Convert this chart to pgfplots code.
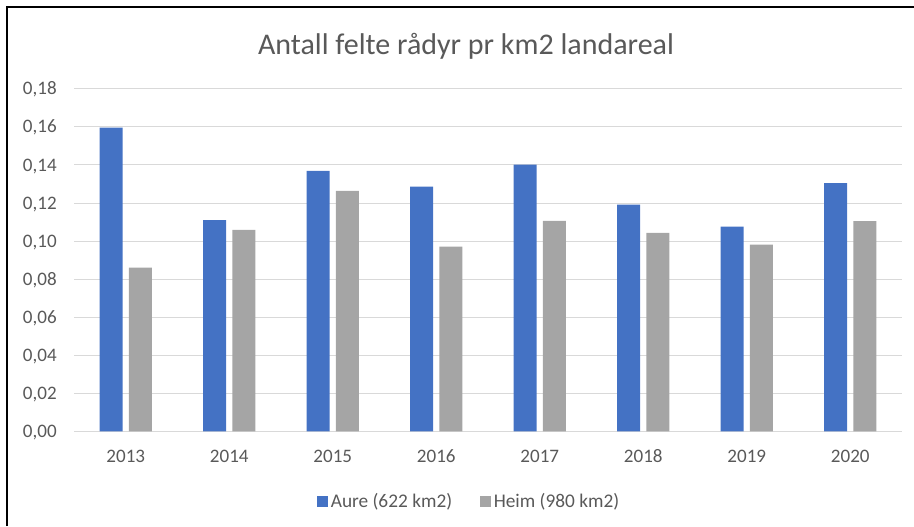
\documentclass[border=0pt]{standalone}
\usepackage{fontspec}
\setmainfont{Carlito}
\usepackage{pgfplots}
\pgfplotsset{compat=1.18}
\definecolor{aure}{HTML}{4472C4}
\definecolor{heim}{HTML}{A5A5A5}
\definecolor{gridc}{HTML}{D9D9D9}
\definecolor{txt}{HTML}{595959}
\begin{document}
\begin{tikzpicture}
% 1 px of the reference = 0.75pt
\path[use as bounding box] (0,0) rectangle (685.5pt,-394.5pt);
\draw[black, line width=1.75pt] (5.4pt,-394.5pt) -- (5.4pt,-5.4pt) -- (685.5pt,-5.4pt);
\node[txt, font=\fontsize{22.5}{27}\selectfont, anchor=base] at (349.5pt,-41pt) {Antall felte rådyr pr km2 landareal};
\begin{axis}[
    at={(55.5pt,-323.6pt)}, anchor=south west,
    scale only axis,
    width=621pt, height=257pt,
    ybar=4.65pt,
    bar width=17.25pt,
    xmin=-0.5, xmax=7.5,
    ymin=0, ymax=0.18,
    xtick={0,...,7},
    xticklabels={2013,2014,2015,2016,2017,2018,2019,2020},
    ytick={0,0.02,0.04,0.06,0.08,0.10,0.12,0.14,0.16,0.18},
    yticklabel style={/pgf/number format/fixed, /pgf/number format/fixed zerofill,
        /pgf/number format/precision=2, /pgf/number format/use comma},
    /pgf/number format/assume math mode=true,
    axis line style={draw=none},
    major tick length=0pt,
    ymajorgrids,
    major grid style={draw=gridc, line width=0.75pt},
    tick label style={txt, font=\fontsize{14.3}{17}\selectfont, inner sep=0pt, text height=9.1pt, text depth=0pt},
    y tick label style={anchor=east},
    x tick label style={anchor=north},
    xtick style={draw=none},
    yticklabel shift=12.75pt,
    xticklabel shift=13.6pt,
    legend style={at={(0.4777,-0.2048)}, anchor=center, draw=none, fill=none,
        legend columns=2, font=\fontsize{14.5}{17}\selectfont, text=txt,
        /tikz/every even column/.append style={column sep=19pt},
        nodes={inner sep=2pt},
        inner sep=0pt},
    legend cell align=left,
    legend image code/.code={\fill[#1] (0pt,-4.1pt) rectangle (8.25pt,4.1pt);},
]
\addplot[fill=aure, draw=none] coordinates {(0,0.1596) (1,0.1110) (2,0.1369) (3,0.1286) (4,0.1402) (5,0.1192) (6,0.1076) (7,0.1304)};
\addplot[fill=heim, draw=none] coordinates {(0,0.0861) (1,0.1059) (2,0.1264) (3,0.0971) (4,0.1106) (5,0.1043) (6,0.0982) (7,0.1105)};
\legend{Aure (622 km2), Heim (980 km2)}
\end{axis}
\end{tikzpicture}
\end{document}
